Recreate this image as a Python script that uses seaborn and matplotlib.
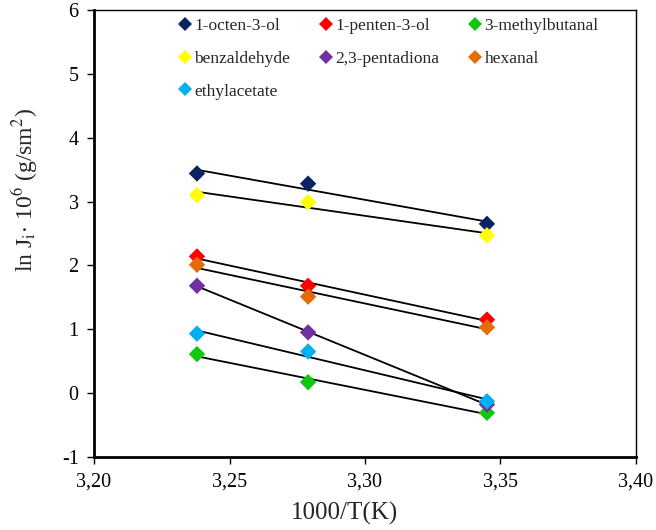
import numpy as np
import pandas as pd
import matplotlib
matplotlib.use("Agg")
import matplotlib.pyplot as plt
import seaborn as sns

# Inverse temperature (1000/T, K^-1)
inv_T = [3.238, 3.279, 3.345]

compounds = ["1-octen-3-ol", "1-penten-3-ol", "3-methylbutanal",
             "benzaldehyde", "2,3-pentadiona", "hexanal", "ethylacetate"]

octenol = [3.44, 3.28, 2.65]
pentenol = [2.14, 1.68, 1.15]
methylbutanal = [0.61, 0.17, -0.31]
benzaldehyde = [3.10, 2.99, 2.47]
pentadiona = [1.68, 0.95, -0.18]
hexanal = [2.01, 1.51, 1.03]
ethylacetate = [0.93, 0.65, -0.13]

series = [octenol, pentenol, methylbutanal, benzaldehyde,
          pentadiona, hexanal, ethylacetate]

colors = ["#0b2361", "#ff0000", "#11c811", "#ffff00",
          "#7030a0", "#e36c09", "#00b0f0"]

df = pd.DataFrame({
    "x": np.tile(inv_T, len(compounds)),
    "y": np.concatenate(series),
    "compound": np.repeat(compounds, len(inv_T)),
})

sns.set_style("white")
plt.rcParams["font.family"] = ["Liberation Serif", "DejaVu Serif"]
plt.rcParams["mathtext.fontset"] = "stix"
plt.rcParams["axes.unicode_minus"] = False

fig = plt.figure(figsize=(6.56, 5.30), dpi=100)
ax = fig.add_axes([0.1433, 0.138, 0.8262, 0.843])

# Linear fits drawn across each data range
for name in compounds:
    sub = df[df["compound"] == name]
    sns.regplot(data=sub, x="x", y="y", ax=ax, scatter=False, ci=None,
                truncate=True, color="black", line_kws={"linewidth": 1.3})

sns.scatterplot(data=df, x="x", y="y", hue="compound", hue_order=compounds,
                palette=colors, marker="D", s=70, linewidth=0, ax=ax,
                zorder=3)

ax.set_xlim(3.20, 3.40)
ax.set_ylim(-1, 6)
ax.set_xticks([3.20, 3.25, 3.30, 3.35, 3.40])
ax.set_xticklabels(["3,20", "3,25", "3,30", "3,35", "3,40"])
ax.set_yticks(range(-1, 7))
ax.tick_params(axis="both", direction="out", length=5, width=1,
               labelsize=14.5, colors="black", left=True, bottom=True)
ax.tick_params(axis="y", pad=6)
ax.tick_params(axis="x", pad=6)

for side in ["left", "bottom"]:
    ax.spines[side].set_linewidth(2.0)
    ax.spines[side].set_color("black")
for side in ["top", "right"]:
    ax.spines[side].set_linewidth(1.0)
    ax.spines[side].set_color("black")

ax.set_xlabel("1000/T(K)", fontsize=18)
ax.set_ylabel(r"ln J$_\mathrm{i}$$\cdot$ 10$^6$ (g/sm$^2$)", fontsize=17)
ax.xaxis.set_label_coords(0.463, -0.100)
ax.yaxis.set_label_coords(-0.099, 0.598)

handles, labels = ax.get_legend_handles_labels()
lookup = dict(zip(labels, handles))
order = ["1-octen-3-ol", "benzaldehyde", "ethylacetate",
         "1-penten-3-ol", "2,3-pentadiona",
         "3-methylbutanal", "hexanal"]
leg = ax.legend([lookup[k] for k in order], order, ncol=3, frameon=False,
                loc="upper left", bbox_to_anchor=(0.124, 1.017),
                fontsize=12.5, handletextpad=0.1, handlelength=0.9,
                columnspacing=1.6, labelspacing=0.95, markerscale=0.9)

fig.savefig("out.png", dpi=100)
